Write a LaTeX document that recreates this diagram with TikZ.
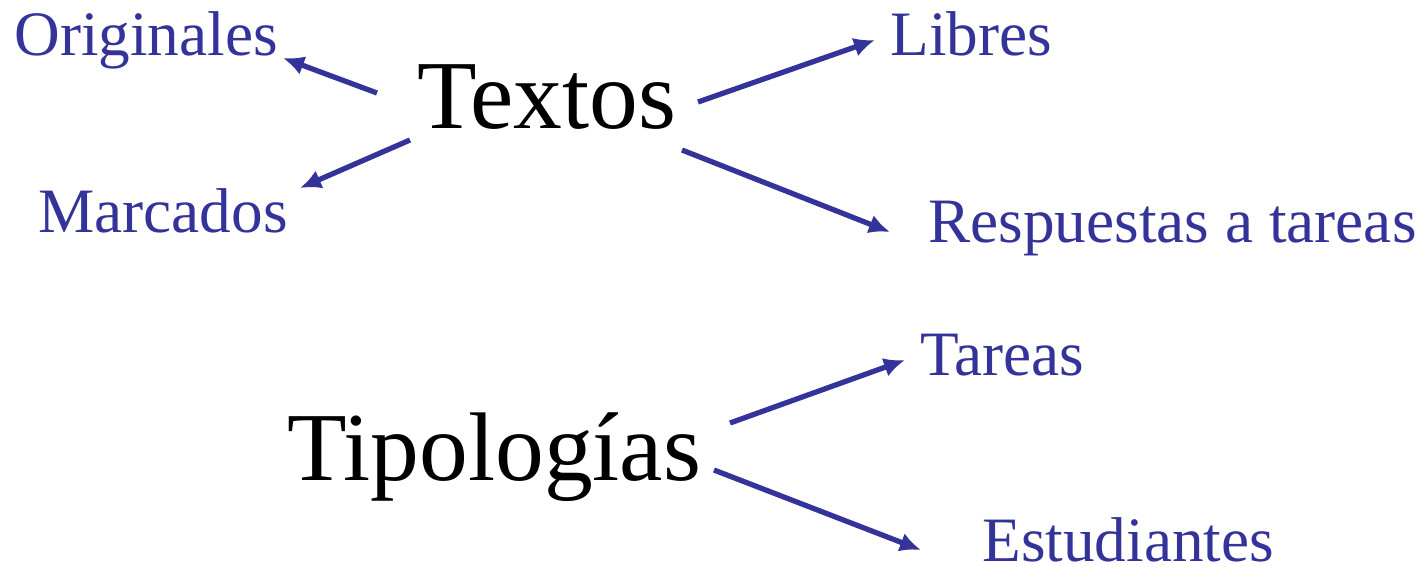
\documentclass[tikz,border=0pt]{standalone}
\usepackage{fontspec}
\setmainfont{Liberation Serif}
\usetikzlibrary{arrows.meta}
\definecolor{azul}{RGB}{51,51,153}
\begin{document}
\begin{tikzpicture}[x=0.02cm, y=-0.02cm]
       \tikzset{>={Latex[length=12pt,width=11pt]}}
       \tikzset{tema/.style={anchor=base west, inner sep=0pt, font=\fontsize{55.5}{62}\selectfont},
                rama/.style={anchor=base west, inner sep=0pt, text=azul, font=\fontsize{36}{42}\selectfont},
                flecha/.style={->, draw=azul, line width=3pt}}
       \useasboundingbox (0,0) rectangle (1427,566);
       % temas
       \node[tema] (textos) at (417,128) {Textos};
       \node[tema] (tipol) at (287,480) {Tipologías};
       % ramas
       \node[rama] (orig) at (14,55) {Originales};
       \node[rama] (marc) at (38,232) {Marcados};
       \node[rama] (libres) at (890,55) {Libres};
       \node[rama] (resp) at (928,242) {Respuestas a tareas};
       \node[rama] (tareas) at (920,375) {Tareas};
       \node[rama] (estud) at (982,561) {Estudiantes};

       \draw[flecha] ([shift={(-40,-35)}]textos.base west) -- ([shift={(269,3)}]orig.base west);
       \draw[flecha] ([shift={(-7,12)}]textos.base west) -- ([shift={(262,-44)}]marc.base west);
       \draw[flecha] ([shift={(281,-26)}]textos.base west) -- ([shift={(-15,-15)}]libres.base west);
       \draw[flecha] ([shift={(265,22)}]textos.base west) -- ([shift={(-38,-10)}]resp.base west);
       \draw[flecha] ([shift={(443,-57)}]tipol.base west) -- ([shift={(-15,-15)}]tareas.base west);
       \draw[flecha] ([shift={(427,-10)}]tipol.base west) -- ([shift={(-61,-11)}]estud.base west);
   \end{tikzpicture}
\end{document}
